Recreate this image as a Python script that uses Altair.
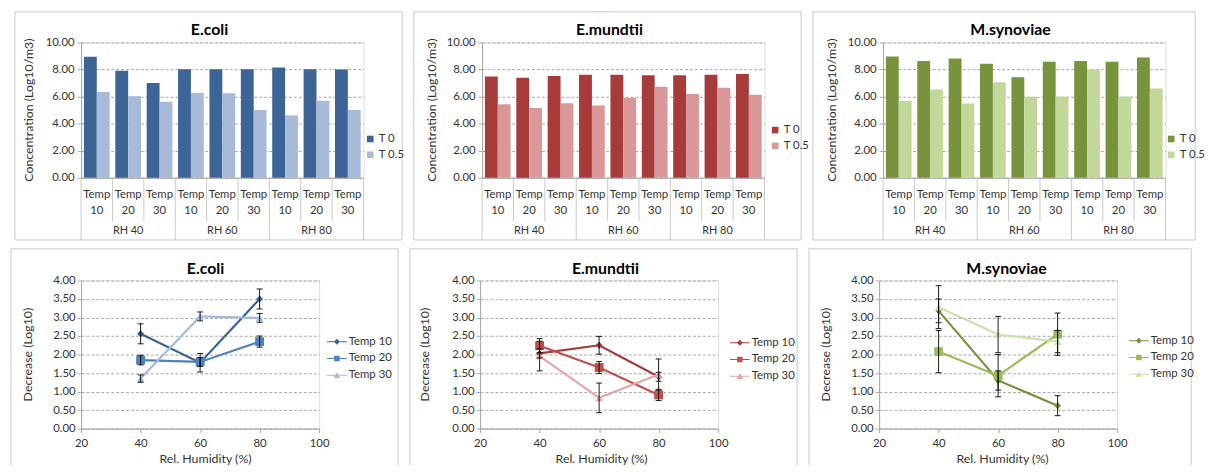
import altair as alt
import pandas as pd

FONT = "Lato"
TXT = "#333333"
AXIS = "#A6A6A6"
GRID = "#A6A6A6"
BOX = "#C8C8C8"

# ---------------- data: top row (bar charts) ----------------
rh_groups = ["RH 40", "RH 60", "RH 80"]
temp_labels = ["10", "20", "30"]
time_points = ["T 0", "T 0.5"]

ecoli_t0 = [8.95, 7.90, 7.00, 8.02, 8.02, 8.02, 8.15, 8.02, 8.00]
ecoli_t05 = [6.34, 6.02, 5.61, 6.27, 6.24, 5.00, 4.61, 5.70, 5.00]
mundtii_t0 = [7.48, 7.40, 7.52, 7.62, 7.62, 7.57, 7.57, 7.62, 7.67]
mundtii_t05 = [5.44, 5.15, 5.50, 5.34, 5.92, 6.72, 6.19, 6.65, 6.14]
synov_t0 = [8.96, 8.63, 8.82, 8.43, 7.42, 8.58, 8.63, 8.58, 8.89]
synov_t05 = [5.69, 6.53, 5.49, 7.06, 5.98, 6.00, 8.00, 6.00, 6.60]

bar_ticks = [0, 2, 4, 6, 8, 10]

# ---------------- data: bottom row (line charts) ----------------
humidity = [40, 60, 80]
series = ["Temp 10", "Temp 20", "Temp 30"]

ecoli_temp10 = [2.56, 1.78, 3.50]
ecoli_temp20 = [1.85, 1.80, 2.35]
ecoli_temp30 = [1.35, 3.03, 2.99]
ecoli_temp10_err = [0.27, 0.25, 0.27]
ecoli_temp20_err = [0.13, 0.12, 0.15]
ecoli_temp30_err = [0.10, 0.12, 0.12]

mundtii_temp10 = [2.03, 2.25, 1.40]
mundtii_temp20 = [2.24, 1.65, 0.91]
mundtii_temp30 = [1.96, 0.83, 1.46]
mundtii_temp10_err = [0.12, 0.24, 0.12]
mundtii_temp20_err = [0.19, 0.16, 0.15]
mundtii_temp30_err = [0.40, 0.40, 0.42]

synov_temp10 = [3.18, 1.30, 0.62]
synov_temp20 = [2.08, 1.43, 2.55]
synov_temp30 = [3.28, 2.54, 2.35]
synov_temp10_err = [0.32, 0.26, 0.27]
synov_temp20_err = [0.57, 0.57, 0.57]
synov_temp30_err = [0.58, 0.49, 0.30]

line_ticks = [0, 0.5, 1, 1.5, 2, 2.5, 3, 3.5, 4]
x_ticks = [20, 40, 60, 80, 100]

BLUE_BARS = ["#3C6496", "#A7BAD8"]
RED_BARS = ["#A63B3A", "#D99897"]
GREEN_BARS = ["#77933C", "#C4D79B"]
BLUE_LINES = ["#3A6395", "#4F81BD", "#A5BBDD"]
RED_LINES = ["#A33B3A", "#C0504D", "#E4A6A5"]
GREEN_LINES = ["#76923C", "#9BBB59", "#CFDFAE"]

BAR_LINE = "M-1,-0.05H1V0.05H-1Z"
LEG_PATHS = [
    BAR_LINE + " M0,-0.3L0.3,0L0,0.3L-0.3,0Z",
    BAR_LINE + " M-0.28,-0.28H0.28V0.28H-0.28Z",
    BAR_LINE + " M0,-0.32L0.34,0.28L-0.34,0.28Z",
]


def one_row(text):
    return alt.Chart(pd.DataFrame({"t": [text]}))


def frame_closed(l, r, t, b):
    return [one_row("").mark_rect(fill="white", fillOpacity=0, stroke=BOX, strokeWidth=1).encode(
        x=alt.value(l), x2=alt.value(r), y=alt.value(t), y2=alt.value(b))]


def frame_open(l, r, t, b):
    # top edge plus the two sides; the bottom edge lies beyond the visible page
    return [
        one_row("").mark_rule(color=BOX, strokeWidth=1).encode(
            x=alt.value(l), x2=alt.value(r), y=alt.value(t)),
        one_row("").mark_rule(color=BOX, strokeWidth=1).encode(
            x=alt.value(l), y=alt.value(t), y2=alt.value(b)),
        one_row("").mark_rule(color=BOX, strokeWidth=1).encode(
            x=alt.value(r), y=alt.value(t), y2=alt.value(b)),
    ]


def label(text, x, y, size=11, bold=False, angle=0):
    kw = dict(fontSize=size, color=TXT if not bold else "#000000", align="center", baseline="middle")
    if bold:
        kw["fontWeight"] = "bold"
    if angle:
        kw["angle"] = angle
    return one_row(text).mark_text(**kw).encode(text="t:N", x=alt.value(x), y=alt.value(y))


def bar_panel(title, t0_vals, t05_vals, colors, box_l, box_r, leg_x, leg_y, ytitle_x, title_x):
    W, H = 286, 137
    cats = [f"{g} | {t}" for g in rh_groups for t in temp_labels]
    df = pd.DataFrame({
        "cat": cats * 2,
        "time": [time_points[0]] * 9 + [time_points[1]] * 9,
        "value": list(t0_vals) + list(t05_vals),
    })
    cells = pd.DataFrame({
        "cat": cats,
        "rh": [g for g in rh_groups for _ in temp_labels],
        "temp": temp_labels * 3,
        "word": ["Temp"] * 9,
    })
    xscale = alt.Scale(domain=cats, paddingInner=0, paddingOuter=0)
    xaxis = alt.Axis(title=None, labels=False, ticks=False, grid=False, domain=True, domainColor=AXIS)

    def xe(bp=None):
        if bp is None:
            return alt.X("cat:N", scale=xscale, axis=xaxis, sort=cats)
        return alt.X("cat:N", scale=xscale, axis=xaxis, sort=cats, bandPosition=bp)

    yenc = alt.Y("value:Q", scale=alt.Scale(domain=[0, 10], nice=False, padding=0),
                 axis=alt.Axis(values=bar_ticks, format=".2f", title=None, grid=True, gridDash=[3, 2],
                               gridColor=GRID, domain=True, domainColor=AXIS, ticks=True, tickSize=4,
                               tickColor=AXIS, labelPadding=3, labelFontSize=11.5, labelColor=TXT,
                               labelFlush=False))
    bars = alt.Chart(df).mark_bar().encode(
        x=xe(),
        xOffset=alt.XOffset("time:N", sort=time_points,
                            scale=alt.Scale(domain=time_points, paddingInner=0, paddingOuter=0.22)),
        y=yenc,
        color=alt.Color("time:N", scale=alt.Scale(domain=time_points, range=colors),
                        legend=alt.Legend(title=None, orient="none", legendX=leg_x, legendY=leg_y,
                                          symbolType="square", symbolSize=45, symbolStrokeWidth=0,
                                          labelFontSize=11.5, labelColor=TXT, rowPadding=3, padding=0,
                                          labelOffset=3)),
    )
    cb = alt.Chart(cells)
    rule_small = cb.transform_filter(alt.datum.temp != "10").mark_rule(color=BOX).encode(
        x=xe(0), y=alt.value(H), y2=alt.value(H + 44))
    rule_big = cb.transform_filter(alt.datum.temp == "10").mark_rule(color=BOX).encode(
        x=xe(0), y=alt.value(H), y2=alt.value(H + 63))
    rule_end = cb.transform_filter(alt.datum.cat == cats[-1]).mark_rule(color=BOX).encode(
        x=xe(1), y=alt.value(H), y2=alt.value(H + 63))
    t_word = cb.mark_text(fontSize=11.5, color=TXT).encode(x=xe(), y=alt.value(H + 17), text="word:N")
    t_num = cb.mark_text(fontSize=11.5, color=TXT).encode(x=xe(), y=alt.value(H + 34), text="temp:N")
    t_rh = cb.transform_filter(alt.datum.temp == "20").mark_text(fontSize=11, color=TXT).encode(
        x=xe(), y=alt.value(H + 54), text="rh:N")
    return alt.layer(
        *frame_closed(box_l, box_r, -31, 200),
        bars, rule_small, rule_big, rule_end, t_word, t_num, t_rh,
        label(title, title_x, -13, size=16, bold=True),
        label("Concentration  (Log10/m3)", ytitle_x, H / 2, size=12.5, angle=270),
    ).properties(width=W, height=H)


def line_panel(title, vals, errs, colors, box_l, box_r, leg_x, leg_y, ytitle_x, xtitle_x, title_x):
    W, H = 241, 150
    rows = []
    for s, v, e in zip(series, vals, errs):
        for h, vi, ei in zip(humidity, v, e):
            rows.append({"rh": h, "series": s, "value": vi, "lo": vi - ei, "hi": vi + ei})
    df = pd.DataFrame(rows)
    xscale = alt.Scale(domain=[20, 100], nice=False, padding=0)
    xaxis = alt.Axis(values=x_ticks, title=None, grid=False, domainColor=AXIS, tickColor=AXIS,
                     tickSize=4, labelPadding=5, labelFontSize=11.5, labelColor=TXT, labelFlush=False)
    xenc = alt.X("rh:Q", scale=xscale, axis=xaxis)
    yscale = alt.Scale(domain=[0, 4], nice=False, padding=0)
    yaxis = alt.Axis(values=line_ticks, format=".2f", title=None, grid=True, gridDash=[3, 2], gridColor=GRID,
                     domain=True, domainColor=AXIS, ticks=True, tickSize=4, tickColor=AXIS, labelPadding=2,
                     labelFontSize=11.5, labelColor=TXT, labelFlush=False)
    yenc = alt.Y("value:Q", scale=yscale, axis=yaxis)
    cscale = alt.Scale(domain=series, range=colors)
    base = alt.Chart(df)
    leg = alt.Legend(title=None, orient="none", legendX=leg_x, legendY=leg_y, symbolSize=400,
                     symbolOpacity=1, symbolStrokeWidth=0, labelFontSize=11.5, labelColor=TXT,
                     rowPadding=1, padding=0, labelOffset=2)
    legend_layer = base.mark_point(filled=True, opacity=0, size=10).encode(
        x=xenc, y=yenc,
        color=alt.Color("series:N", scale=cscale, legend=leg),
        shape=alt.Shape("series:N", scale=alt.Scale(domain=series, range=LEG_PATHS), legend=leg),
    )
    lines = base.mark_line(strokeWidth=2.2).encode(
        x=xenc, y=yenc, color=alt.Color("series:N", scale=cscale, legend=None))
    pts = []
    for s, shp, sz in zip(series, ["diamond", "square", "triangle-up"], [50, 80, 60]):
        pts.append(base.transform_filter(alt.datum.series == s).mark_point(
            shape=shp, filled=True, size=sz, opacity=1).encode(
            x=xenc, y=yenc, color=alt.Color("series:N", scale=cscale, legend=None)))
    err_v = base.mark_rule(color="#000000", strokeWidth=0.9).encode(
        x=xenc, y=alt.Y("lo:Q", scale=yscale, axis=yaxis), y2=alt.Y2("hi:Q"))
    cap_lo = base.mark_rule(color="#000000", strokeWidth=0.9, xOffset=-3, x2Offset=3).encode(
        x=xenc, x2=alt.X2("rh:Q"), y=alt.Y("lo:Q", scale=yscale, axis=yaxis))
    cap_hi = base.mark_rule(color="#000000", strokeWidth=0.9, xOffset=-3, x2Offset=3).encode(
        x=xenc, x2=alt.X2("rh:Q"), y=alt.Y("hi:Q", scale=yscale, axis=yaxis))
    return alt.layer(
        *frame_open(box_l, box_r, -32, 187),
        legend_layer, lines, *pts, err_v, cap_lo, cap_hi,
        label(title, title_x, -12, size=16, bold=True),
        label("Decrease (Log10)", ytitle_x, H / 2, size=12.5, angle=270),
        label("Rel. Humidity (%)", xtitle_x, 181, size=12.5),
    ).properties(width=W, height=H)


# plot origins (screen): top 77 / 483 / 889 ; bottom 81 / 485 / 889
p1 = bar_panel("E.coli", ecoli_t0, ecoli_t05, BLUE_BARS, -67, 325, 287, 92, -53, 130)
p2 = bar_panel("E.mundtii", mundtii_t0, mundtii_t05, RED_BARS, -69, 323, 291, 83, -51, 129)
p3 = bar_panel("M.synoviae", synov_t0, synov_t05, GREEN_BARS, -71, 316, 286, 92, -52, 129)

p4 = line_panel("E.coli", [ecoli_temp10, ecoli_temp20, ecoli_temp30],
                [ecoli_temp10_err, ecoli_temp20_err, ecoli_temp30_err], BLUE_LINES,
                -71, 321, 249, 52, -54, 126, 126)
p5 = line_panel("E.mundtii", [mundtii_temp10, mundtii_temp20, mundtii_temp30],
                [mundtii_temp10_err, mundtii_temp20_err, mundtii_temp30_err], RED_LINES,
                -71, 321, 253, 53, -56, 123, 127)
p6 = line_panel("M.synoviae", [synov_temp10, synov_temp20, synov_temp30],
                [synov_temp10_err, synov_temp20_err, synov_temp30_err], GREEN_LINES,
                -71, 316, 253, 51, -54, 125, 129)

top = alt.hconcat(p1, p2, p3, spacing=120, bounds="flush").resolve_scale(
    color="independent", shape="independent")
bottom = alt.hconcat(p4, p5, p6, spacing=163, bounds="flush").resolve_scale(
    color="independent", shape="independent")

chart = alt.vconcat(top, bottom, spacing=7).resolve_scale(
    color="independent", shape="independent"
).properties(
    padding={"left": 2, "top": 0, "right": 0, "bottom": 0}
).configure_view(stroke=None).configure(font=FONT)

chart.save("out.html", embed_options={"renderer": "svg", "actions": False})
